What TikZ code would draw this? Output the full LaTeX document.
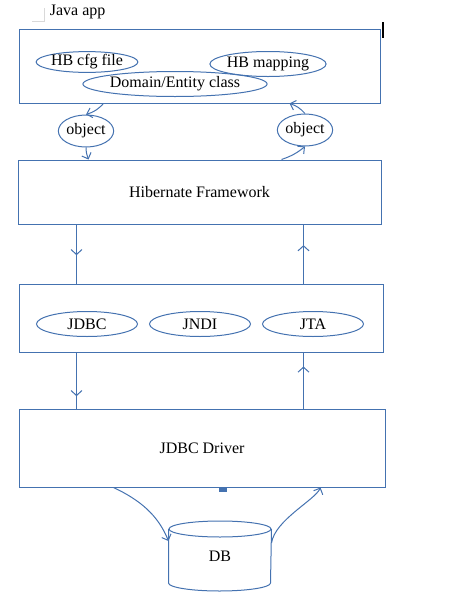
\documentclass[tikz,border=0pt]{standalone}
\usepackage{fontspec}
\setmainfont{Liberation Serif}
\usetikzlibrary{arrows.meta,calc,shapes.geometric,decorations.markings}
\definecolor{lineblue}{RGB}{68,114,176}

\begin{document}
\begin{tikzpicture}[x=1pt,y=-1pt,font=\fontsize{16}{19}\selectfont,line width=1pt,
  box/.style={draw=lineblue,inner sep=0pt},
  oval/.style={draw=lineblue,ellipse,inner sep=0pt},
  arr/.style={draw=lineblue,-{Straight Barb[length=5pt,width=10pt]}},
  midarr/.style={draw=lineblue,postaction={decorate},decoration={markings,
    mark=at position #1 with {\arrow{Straight Barb[length=5pt,width=11pt]}}}}]
\useasboundingbox (0,0) rectangle (471,592);
% header
\draw[gray!30] (32,21) -- (44,21) -- (44,8);
\node[anchor=west] (app) at (46,12) {Java app};
\draw[black,line width=1.6pt] (383,22) -- (383,38);
% layers
\node[box,minimum width=361,minimum height=74] (top) at (199.5,66) {};
\node[oval,minimum width=98,minimum height=20] (cfg) at (87,62) {HB cfg file};
\node[oval,minimum width=83,minimum height=25] (map) at (268,64) {HB mapping};
\node[oval,minimum width=147,minimum height=25] (dom) at (175,84) {Domain/Entity class};
\node[oval,minimum width=48,minimum height=32] (objL) at (86,131) {object};
\node[oval,minimum width=47,minimum height=32] (objR) at (305,130) {object};
\node[box,minimum width=363,minimum height=64] (hib) at (199.5,192) {Hibernate Framework};
\node[box,minimum width=364,minimum height=68] (mid) at (201,318) {};
\node[oval,minimum width=101,minimum height=25] (jdbc) at (87,324) {JDBC};
\node[oval,minimum width=101,minimum height=25] (jndi) at (200,324) {JNDI};
\node[oval,minimum width=101,minimum height=25] (jta) at (313,324) {JTA};
\node[box,minimum width=366,minimum height=78] (drv) at (202,448) {JDBC Driver};
\fill[lineblue] ($(drv.south)+(17,0)$) rectangle ++(8,4);
% database
\node[minimum width=102,minimum height=69,inner sep=0pt] (db) at (220,556) {DB};
\draw[lineblue] ($(db.north)+(0,8)$) ellipse (51 and 8);
\draw[lineblue] ($(db.north west)+(0,8)$) -- ($(db.south west)+(0,-8)$)
  arc (180:0:51 and 8) -- ($(db.north east)+(0,8)$);
% flow
\draw[arr] ($(top.south west)+(85,0)$) to[bend left=15] (objL.north);
\draw[arr] (objL.south) to[bend right=10] ($(hib.north west)+(71,0)$);
\draw[arr] ($(hib.north west)+(264,0)$) to[bend right=10] (objR.south);
\draw[arr] (objR.north) to[bend right=15] ($(top.south west)+(271,0)$);
\draw[midarr=0.52] ($(hib.south west)+(59,0)$) -- ($(mid.north west)+(58,0)$);
\draw[midarr=0.65] ($(mid.north west)+(285,0)$) -- ($(hib.south west)+(286,0)$);
\draw[midarr=0.78] ($(mid.south west)+(58,0)$) -- ($(drv.north west)+(58,0)$);
\draw[midarr=0.75] ($(drv.north west)+(285,0)$) -- ($(mid.south west)+(285,0)$);
\draw[arr] ($(drv.south west)+(95,0)$) .. controls (140,500) and (158,515) .. ($(db.north west)+(0,20)$);
\draw[arr] ($(db.north east)+(0,22)$) .. controls (275,520) and (315,500) .. ($(drv.south west)+(302,0)$);
\end{tikzpicture}
\end{document}
